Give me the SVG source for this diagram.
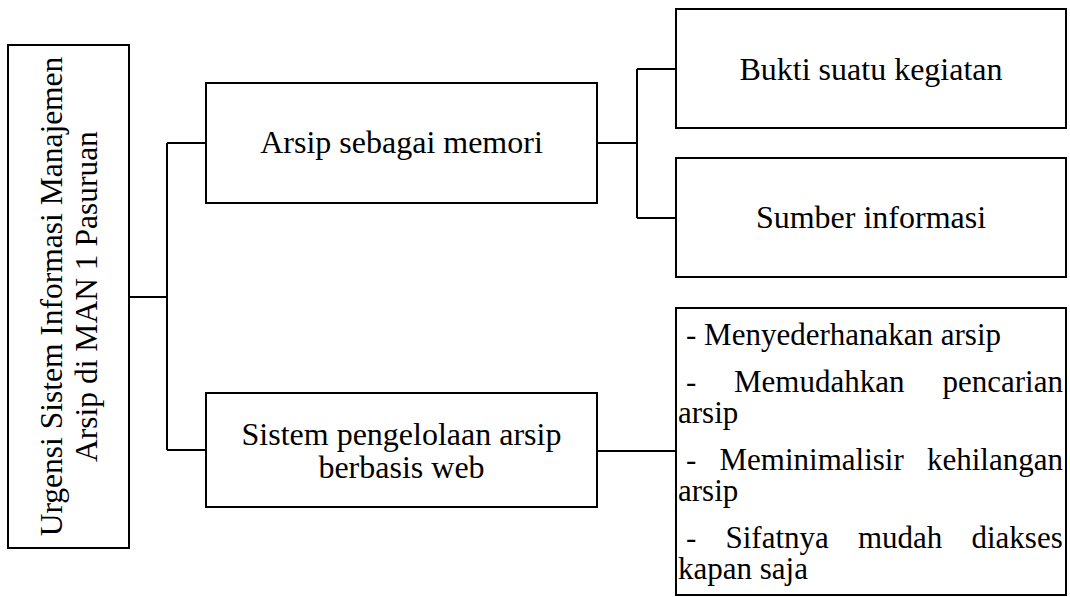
<svg xmlns="http://www.w3.org/2000/svg" width="1070" height="597" viewBox="0 0 1070 597">
<style>
.box{fill:#fff;stroke:#000;stroke-width:2}
.ln{fill:none;stroke:#000;stroke-width:2}
text{font-family:"Liberation Serif","Times New Roman",Times,serif;fill:#000}
.t{font-size:32px}
.tc{text-anchor:middle}
.e{font-size:31px}
.r{text-anchor:end}
</style>
<rect width="1070" height="597" fill="#fff"/>
<g id="connectors">
<path class="ln" d="M129 297H167M167 143V450M167 143H206M167 450H206"/>
<path class="ln" d="M597 143H637M637 69V218M637 69H676M637 218H676"/>
<path class="ln" d="M597 451H676"/>
</g>
<g id="root">
<rect class="box" x="8" y="45" width="121" height="503"/>
<text class="t tc" style="font-size:31.5px" transform="translate(62 296.5) rotate(-90)">Urgensi Sistem Informasi Manajemen</text>
<text class="t tc" style="font-size:31.5px" transform="translate(97 296.5) rotate(-90)">Arsip di MAN 1 Pasuruan</text>
</g>
<g id="memori">
<rect class="box" x="206" y="83" width="391" height="120"/>
<text class="t tc" x="401.5" y="153">Arsip sebagai memori</text>
</g>
<g id="sistem">
<rect class="box" x="206" y="393" width="391" height="114"/>
<text class="t tc" x="401.5" y="445">Sistem pengelolaan arsip</text>
<text class="t tc" x="401.5" y="478">berbasis web</text>
</g>
<g id="bukti">
<rect class="box" x="676" y="9" width="390" height="119"/>
<text class="t tc" x="871" y="80">Bukti suatu kegiatan</text>
</g>
<g id="sumber">
<rect class="box" x="676" y="158" width="390" height="119"/>
<text class="t tc" x="871" y="228">Sumber informasi</text>
</g>
<g id="manfaat">
<rect class="box" x="676" y="308" width="390" height="287"/>
<text class="e" x="686" y="345">- Menyederhanakan arsip</text>
<text class="e" y="392"><tspan x="686">-</tspan><tspan x="734">Memudahkan</tspan><tspan x="942.5">pencarian</tspan></text>
<text class="e" x="678" y="423">arsip</text>
<text class="e" y="470"><tspan x="686">-</tspan><tspan x="719.5">Meminimalisir</tspan><tspan x="927">kehilangan</tspan></text>
<text class="e" x="678" y="501">arsip</text>
<text class="e" y="548"><tspan x="686">-</tspan><tspan x="725.5">Sifatnya</tspan><tspan x="858">mudah</tspan><tspan x="971.5">diakses</tspan></text>
<text class="e" x="678" y="579">kapan saja</text>
</g>
</svg>
